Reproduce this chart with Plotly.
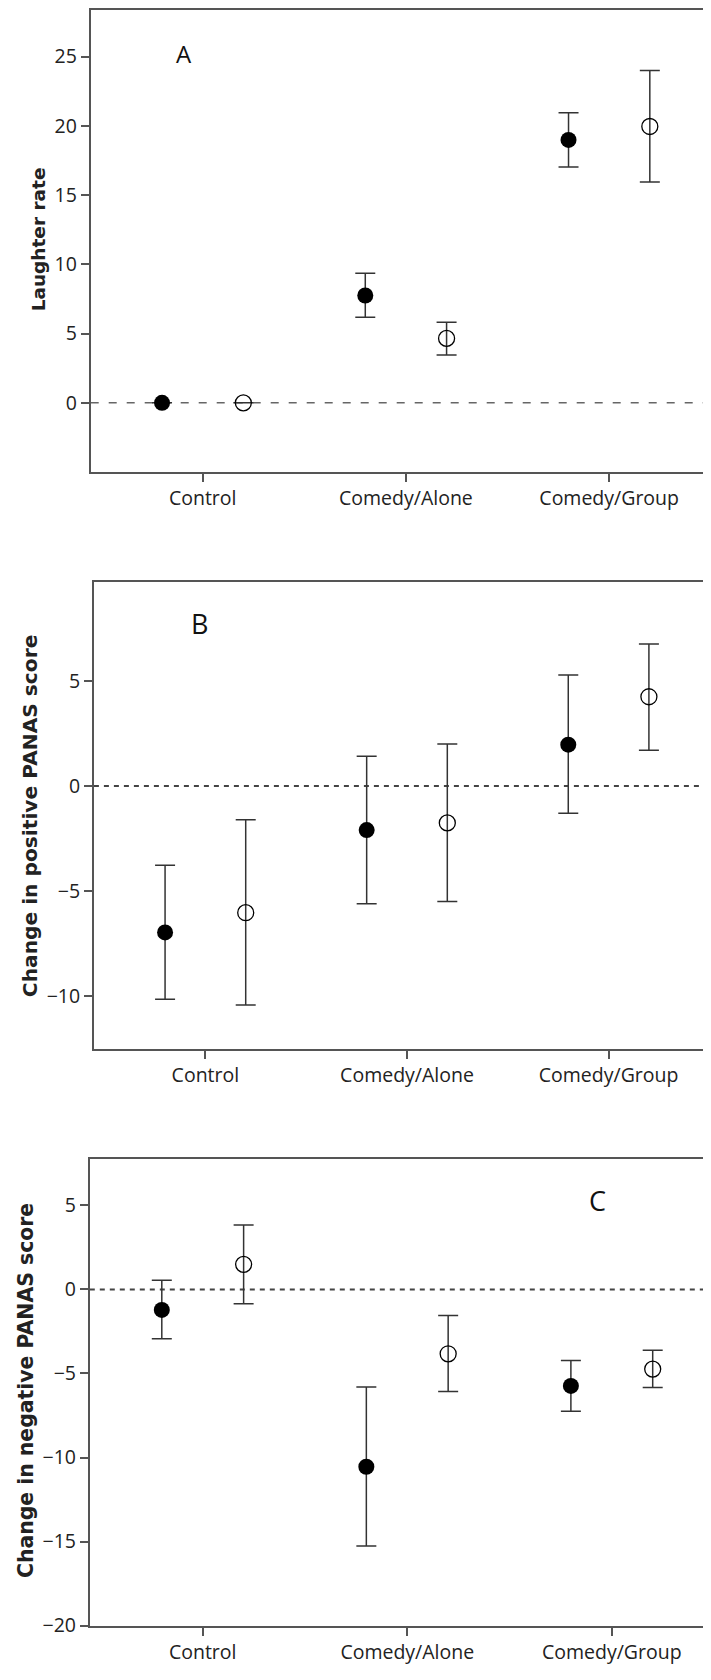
import plotly.graph_objects as go

# ---------------- data ----------------
categories = ["Control", "Comedy/Alone", "Comedy/Group"]

# Panel A: laughter rate
a_filled_mean = [0.0, 7.75, 18.98]
a_filled_lo = [0.0, 6.17, 17.02]
a_filled_hi = [0.0, 9.36, 20.95]
a_open_mean = [0.0, 4.65, 19.95]
a_open_lo = [0.0, 3.45, 15.95]
a_open_hi = [0.0, 5.81, 24.0]

# Panel B: change in positive PANAS score
b_filled_mean = [-6.96, -2.09, 1.97]
b_filled_lo = [-10.14, -5.60, -1.29]
b_filled_hi = [-3.77, 1.42, 5.28]
b_open_mean = [-6.02, -1.75, 4.25]
b_open_lo = [-10.41, -5.49, 1.70]
b_open_hi = [-1.60, 2.00, 6.76]

# Panel C: change in negative PANAS score
c_filled_mean = [-1.22, -10.55, -5.74]
c_filled_lo = [-2.93, -15.27, -7.25]
c_filled_hi = [0.55, -5.80, -4.23]
c_open_mean = [1.49, -3.83, -4.74]
c_open_lo = [-0.86, -6.07, -5.84]
c_open_hi = [3.83, -1.55, -3.62]

y_titles = ["Laughter rate", "Change in positive PANAS score", "Change in negative PANAS score"]
panel_letters = ["A", "B", "C"]
a_ticks = [0, 5, 10, 15, 20, 25]
b_ticks = [-10, -5, 0, 5]
c_ticks = [-20, -15, -10, -5, 0, 5]

# ---------------- layout geometry ----------------
# page body has an 8px margin, so the figure is offset by 8px in the window
W, H = 703, 1672
OFFSET = 0.2
TICK_FONT = dict(family="Open Sans", size=19.5, color="#222")
AXIS_COLOR = "#555"

panels = [
    dict(fm=a_filled_mean, flo=a_filled_lo, fhi=a_filled_hi,
         om=a_open_mean, olo=a_open_lo, ohi=a_open_hi,
         yr=[-5, 28.36], xr=[-0.551, 2.501], left=82.7, top=1, bottom=467,
         ticks=a_ticks, dash="8px,10px", dcol="#666", dw=1.5,
         letter_xy=(-0.09, 25.2), letter_size=24,
         title_xy=(30.5, 232.8), title_size=18.5),
    dict(fm=b_filled_mean, flo=b_filled_lo, fhi=b_filled_hi,
         om=b_open_mean, olo=b_open_lo, ohi=b_open_hi,
         yr=[-12.5, 9.7], xr=[-0.553, 2.508], left=85.9, top=578, bottom=1048.7,
         ticks=b_ticks, dash="5px,5px", dcol="#444", dw=2,
         letter_xy=(-0.03, 7.75), letter_size=27,
         title_xy=(22, 814), title_size=20.2),
    dict(fm=c_filled_mean, flo=c_filled_lo, fhi=c_filled_hi,
         om=c_open_mean, olo=c_open_lo, ohi=c_open_hi,
         yr=[-20, 7.78], xr=[-0.552, 2.485], left=81.8, top=1159.3, bottom=1630.3,
         ticks=c_ticks, dash="5px,5px", dcol="#444", dw=2,
         letter_xy=(1.93, 5.27), letter_size=27,
         title_xy=(18, 1393.7), title_size=20.4),
]

fig = go.Figure()
annotations = []
shapes = []
layout_axes = {}

for i, p in enumerate(panels):
    n = i + 1
    xa = "x" if n == 1 else f"x{n}"
    ya = "y" if n == 1 else f"y{n}"
    idx = list(range(len(categories)))

    def err(mean, lo, hi):
        return dict(type="data", symmetric=False,
                    array=[h - m for m, h in zip(mean, hi)],
                    arrayminus=[m - l for m, l in zip(mean, lo)],
                    color="#333", thickness=1.5, width=10)

    fig.add_trace(go.Scatter(
        x=[k - OFFSET for k in idx], y=p["fm"], mode="markers",
        marker=dict(symbol="circle", size=16, color="black"),
        error_y=err(p["fm"], p["flo"], p["fhi"]),
        xaxis=xa, yaxis=ya, showlegend=False))
    fig.add_trace(go.Scatter(
        x=[k + OFFSET for k in idx], y=p["om"], mode="markers",
        marker=dict(symbol="circle-open", size=16, color="black", line=dict(width=1.3, color="black")),
        error_y=err(p["om"], p["olo"], p["ohi"]),
        xaxis=xa, yaxis=ya, showlegend=False))

    ydom = [1 - p["bottom"] / H, 1 - p["top"] / H]
    xdom = [p["left"] / W, 1.0]
    xkey = "xaxis" if n == 1 else f"xaxis{n}"
    ykey = "yaxis" if n == 1 else f"yaxis{n}"
    layout_axes[xkey] = dict(
        domain=xdom, range=p["xr"], anchor=ya,
        tickmode="array", tickvals=idx, ticktext=categories,
        ticks="outside", ticklen=8, tickwidth=1.5, tickcolor=AXIS_COLOR,
        showline=True, linecolor=AXIS_COLOR, linewidth=1.8, mirror=True,
        showgrid=False, zeroline=False, tickfont=TICK_FONT, fixedrange=True)
    layout_axes[ykey] = dict(
        domain=ydom, range=p["yr"], anchor=xa,
        tickmode="array", tickvals=p["ticks"],
        ticks="outside", ticklen=8, tickwidth=1.5, tickcolor=AXIS_COLOR,
        showline=True, linecolor=AXIS_COLOR, linewidth=1.8, mirror=False,
        showgrid=False, zeroline=False, tickfont=TICK_FONT, fixedrange=True)

    shapes.append(dict(type="line", xref=f"{xa} domain", yref=ya,
                       x0=0, x1=1, y0=0, y1=0, layer="below",
                       line=dict(color=p["dcol"], width=p["dw"], dash=p["dash"])))

    annotations.append(dict(text=panel_letters[i], xref=xa, yref=ya,
                            x=p["letter_xy"][0], y=p["letter_xy"][1],
                            showarrow=False, xanchor="center", yanchor="middle",
                            font=dict(family="Open Sans", size=p["letter_size"], color="#111")))
    annotations.append(dict(text=f"<b>{y_titles[i]}</b>", xref="paper", yref="paper",
                            x=p["title_xy"][0] / W, y=1 - p["title_xy"][1] / H,
                            textangle=-90, showarrow=False,
                            xanchor="center", yanchor="middle",
                            font=dict(family="DejaVu Sans", size=p["title_size"], color="#222")))

fig.update_layout(
    width=W, height=H,
    margin=dict(l=0, r=0, t=0, b=0, pad=0),
    paper_bgcolor="white", plot_bgcolor="white",
    showlegend=False,
    annotations=annotations, shapes=shapes,
    **layout_axes,
)

fig.write_html("out.html", config={"displayModeBar": False})
